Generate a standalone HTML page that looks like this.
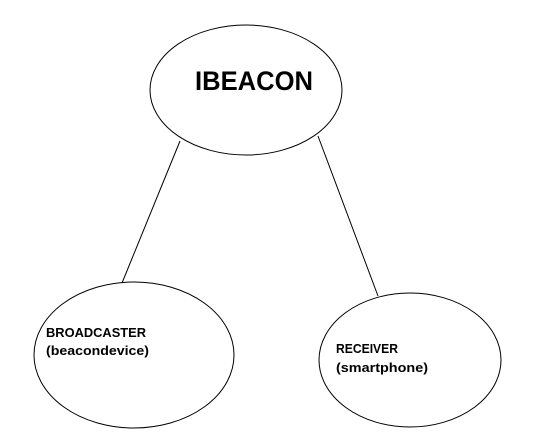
<!DOCTYPE html>
<html><head><meta charset="utf-8"><style>html,body{margin:0;padding:0;background:#fff;}svg{display:block}</style></head>
<body>
<svg width="539" height="442" xmlns="http://www.w3.org/2000/svg">
<rect width="539" height="442" fill="#fff"/>
<g fill="none" stroke="#000" stroke-width="1">
<ellipse cx="246" cy="90" rx="96" ry="65"/>
<ellipse cx="134" cy="355" rx="100" ry="73"/>
<ellipse cx="410" cy="360" rx="91" ry="67"/>
<line x1="180" y1="141" x2="122" y2="283"/>
<line x1="318" y1="136" x2="378" y2="296"/>
</g>
<g font-family="'Liberation Sans', sans-serif" font-weight="bold" fill="#000">
<text x="195" y="90" font-size="27" textLength="118" lengthAdjust="spacingAndGlyphs">IBEACON</text>
<text x="46" y="337" font-size="13" textLength="100" lengthAdjust="spacingAndGlyphs">BROADCASTER</text>
<text x="46" y="355" font-size="13" textLength="103" lengthAdjust="spacingAndGlyphs">(beacondevice)</text>
<text x="336" y="353" font-size="13" textLength="62" lengthAdjust="spacingAndGlyphs">RECEIVER</text>
<text x="336" y="372" font-size="13" textLength="92" lengthAdjust="spacingAndGlyphs">(smartphone)</text>
</g>
</svg>
</body></html>
